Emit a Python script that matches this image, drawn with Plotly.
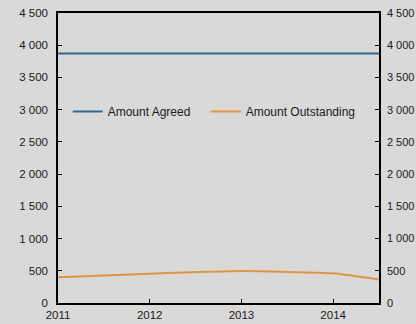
import plotly.graph_objects as go

# Series data
years = [2011, 2012, 2013, 2014, 2014.5]
amount_agreed = [3870, 3870, 3870, 3870, 3870]
amount_outstanding = [400, 455, 495, 460, 365]

y_ticks = [0, 500, 1000, 1500, 2000, 2500, 3000, 3500, 4000, 4500]
x_ticks = [2011, 2012, 2013, 2014]

BG = "#d9d9d9"
BLUE = "#336b8f"
ORANGE = "#e0963e"
FAMILY = "Liberation Sans, Arial, sans-serif"
TICK_FONT = dict(family=FAMILY, size=11.5, color="#1a1a1a")
RIGHT_TICK_FONT = dict(family=FAMILY, size=11, color="#1a1a1a")
LEGEND_FONT = dict(family=FAMILY, size=12, color="#1a1a1a")

fig = go.Figure()
fig.add_trace(go.Scatter(x=years, y=amount_agreed, mode="lines", name="Amount Agreed",
                         line=dict(color=BLUE, width=2), legendwidth=93))
fig.add_trace(go.Scatter(x=years, y=amount_outstanding, mode="lines", name="Amount Outstanding",
                         line=dict(color=ORANGE, width=2, shape="spline", smoothing=0.4),
                         legendwidth=140))
# invisible trace to activate the mirrored right axis
fig.add_trace(go.Scatter(x=years, y=amount_agreed, yaxis="y2", mode="lines",
                         line=dict(width=0), showlegend=False, hoverinfo="skip"))

axis_common = dict(showgrid=False, zeroline=False, showline=True, linecolor="black",
                   linewidth=1.5, ticks="inside", ticklen=4, tickcolor="black",
                   automargin=False)

fig.update_layout(
    width=416, height=324,
    margin=dict(l=58, r=37, t=13, b=21),
    paper_bgcolor=BG, plot_bgcolor=BG,
    separators=". ",
    font=TICK_FONT,
    xaxis=dict(range=[2011, 2014.5], tickvals=x_ticks, ticktext=[str(v) for v in x_ticks],
               mirror=True, tickfont=TICK_FONT, **axis_common),
    yaxis=dict(range=[0, 4500], tickvals=y_ticks, separatethousands=True,
               tickformat=",d", ticklabelstandoff=6, tickfont=TICK_FONT, **axis_common),
    yaxis2=dict(range=[0, 4500], tickvals=y_ticks, separatethousands=True,
                tickformat=",d", overlaying="y", side="right", ticklabelstandoff=4,
                tickfont=RIGHT_TICK_FONT, **axis_common),
    legend=dict(orientation="h", x=0.03, y=0.66, xanchor="left", yanchor="middle",
                bgcolor="rgba(0,0,0,0)", font=LEGEND_FONT, itemwidth=30),
    showlegend=True,
)

fig.write_html("out.html")
